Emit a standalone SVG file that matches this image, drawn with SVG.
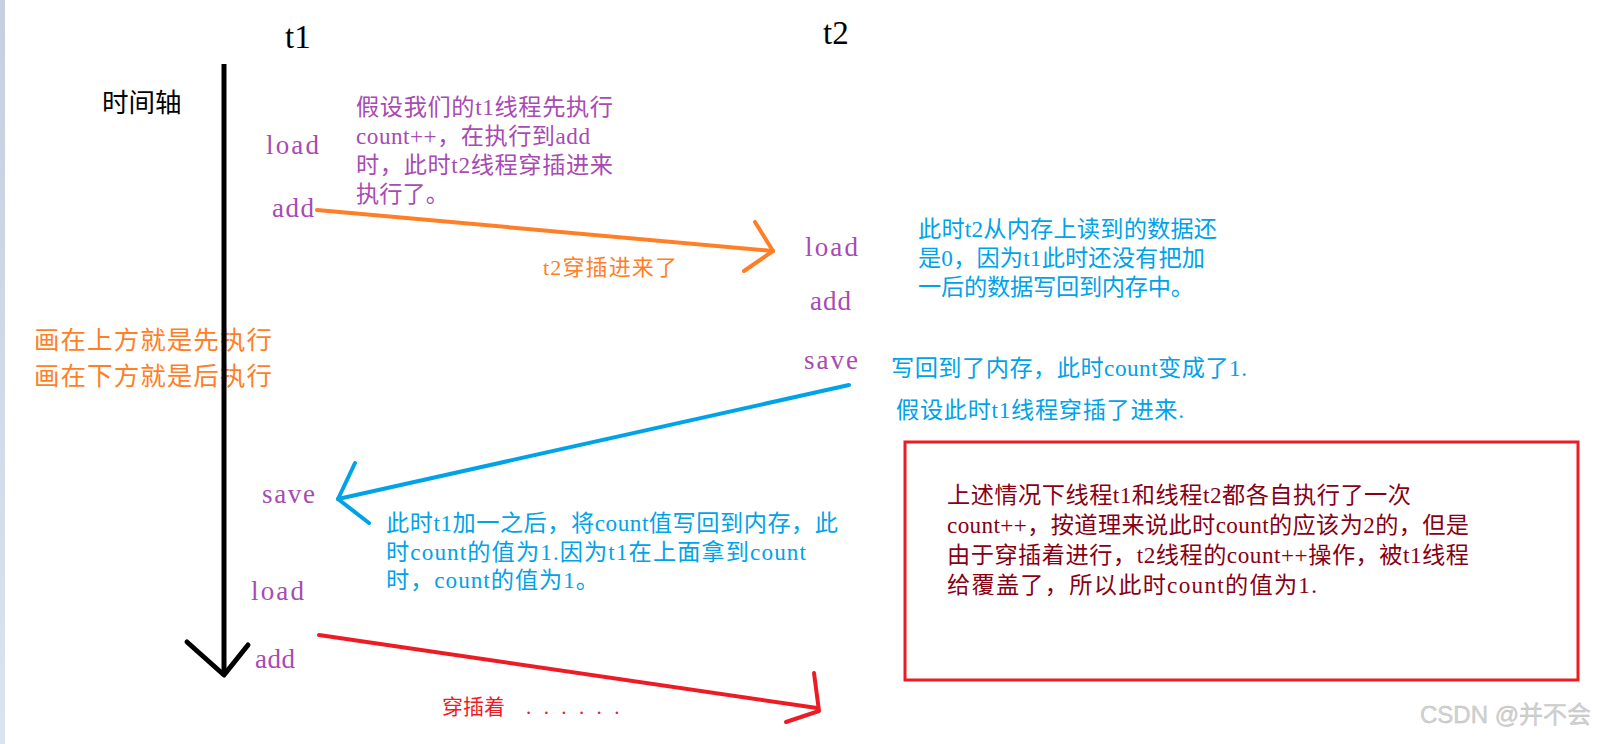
<svg xmlns="http://www.w3.org/2000/svg" width="1604" height="744" viewBox="0 0 1604 744">
<defs>
<linearGradient id="strip" x1="0" y1="0" x2="0" y2="1">
<stop offset="0" stop-color="#c6cfe0"/>
<stop offset="1" stop-color="#dbe3ef"/>
</linearGradient>
<style>
.lat{font-family:"Liberation Serif","Noto Sans CJK SC",serif}
.p{font-family:"Liberation Serif","Noto Sans CJK SC",serif;font-size:23.2px}
.cjk{font-family:"Noto Sans CJK SC",sans-serif}
.op{fill:#a84ab4;font-size:27px}
.purple{fill:#a84ab4}
.blue{fill:#00a2e8}
.orange{fill:#ff7f27}
.red{fill:#ed1c24}
.dred{fill:#880015}
.conn{fill:none;stroke-linecap:round;stroke-linejoin:round;stroke-width:4}
</style>
</defs>
<rect x="0" y="0" width="1604" height="744" fill="#ffffff"/>
<rect x="0" y="0" width="5" height="744" fill="url(#strip)"/>

<g id="axis-caption">
<text class="cjk" x="102" y="112" font-size="26.5" fill="#000">时间轴</text>
</g>
<g id="legend">
<text class="cjk orange" x="34" y="349" font-size="25.5" textLength="238">画在上方就是先执行</text>
<text class="cjk orange" x="34" y="385" font-size="25.5" textLength="238">画在下方就是后执行</text>
</g>

<g id="time-axis">
<path d="M224,64 L224,675" stroke="#000" stroke-width="5" fill="none"/>
<path d="M187,642 L224,675 L248,645" stroke="#000" stroke-width="5" fill="none" stroke-linecap="round" stroke-linejoin="round"/>
</g>

<g id="t1-header"><text class="lat" x="285" y="48" font-size="33" fill="#000">t1</text></g>
<g id="t2-header"><text class="lat" x="823" y="44" font-size="33" fill="#000">t2</text></g>

<g id="t1-load-1"><text class="lat op" x="266" y="154" textLength="53">load</text></g>
<g id="t1-add-1"><text class="lat op" x="272" y="217" textLength="42">add</text></g>
<g id="t2-load"><text class="lat op" x="805" y="256" textLength="53">load</text></g>
<g id="t2-add"><text class="lat op" x="810" y="310" textLength="41">add</text></g>
<g id="t2-save"><text class="lat op" x="804" y="369" textLength="54">save</text></g>
<g id="t1-save"><text class="lat op" x="262" y="503" textLength="53">save</text></g>
<g id="t1-load-2"><text class="lat op" x="251" y="600" textLength="53">load</text></g>
<g id="t1-add-2"><text class="lat op" x="255" y="668" textLength="40">add</text></g>

<g id="note-t1-first">
<text class="p purple" x="356" y="115" textLength="257">假设我们的t1线程先执行</text>
<text class="p purple" x="356" y="144" textLength="234">count++，在执行到add</text>
<text class="p purple" x="356" y="173" textLength="257">时，此时t2线程穿插进来</text>
<text class="p purple" x="356" y="202" textLength="93">执行了。</text>
</g>

<g id="note-t2-read">
<text class="p blue" x="918" y="237" textLength="299">此时t2从内存上读到的数据还</text>
<text class="p blue" x="918" y="266" textLength="287">是0，因为t1此时还没有把加</text>
<text class="p blue" x="918" y="295" textLength="276">一后的数据写回到内存中。</text>
</g>

<g id="note-t2-save">
<text class="p blue" x="891" y="376" textLength="356">写回到了内存，此时count变成了1.</text>
<text class="p blue" x="896" y="418" textLength="288">假设此时t1线程穿插了进来.</text>
</g>

<g id="note-t1-save">
<text class="p blue" x="386" y="531" textLength="452">此时t1加一之后，将count值写回到内存，此</text>
<text class="p blue" x="386" y="560" textLength="420">时count的值为1.因为t1在上面拿到count</text>
<text class="p blue" x="386" y="588" textLength="213">时，count的值为1。</text>
</g>

<g id="summary-box">
<rect x="905" y="442" width="673" height="238" fill="none" stroke="#ed1c24" stroke-width="3"/>
<text class="p dred" x="947" y="503" textLength="464">上述情况下线程t1和线程t2都各自执行了一次</text>
<text class="p dred" x="947" y="533" textLength="522">count++，按道理来说此时count的应该为2的，但是</text>
<text class="p dred" x="947" y="563" textLength="522">由于穿插着进行，t2线程的count++操作，被t1线程</text>
<text class="p dred" x="947" y="593" textLength="370">给覆盖了，所以此时count的值为1.</text>
</g>

<g id="connectors">
<g id="c-orange">
<path class="conn" d="M317,210 L773,251" stroke="#ff7f27"/>
<path class="conn" d="M755,222 L773,251 L744,271" stroke="#ff7f27"/>
<text class="lat orange" x="543" y="275" font-size="22" textLength="134">t2穿插进来了</text>
</g>
<g id="c-blue">
<path class="conn" d="M849,385 L338,499" stroke="#00a2e8"/>
<path class="conn" d="M355,463 L338,499 L369,523" stroke="#00a2e8"/>
</g>
<g id="c-red">
<path class="conn" d="M319,635 L817,708" stroke="#ed1c24"/>
<path class="conn" d="M814,673 L819,711 L786,722" stroke="#ed1c24"/>
<text class="lat red" x="442" y="714" font-size="21">穿插着 <tspan x="526" letter-spacing="12.4">......</tspan></text>
</g>
</g>

<text x="1420" y="723" font-family="Liberation Sans, Noto Sans CJK SC, sans-serif" font-size="24" fill="#d2d2d2" stroke="#bdbdbd" stroke-width="0.4">CSDN @并不会</text>
</svg>
